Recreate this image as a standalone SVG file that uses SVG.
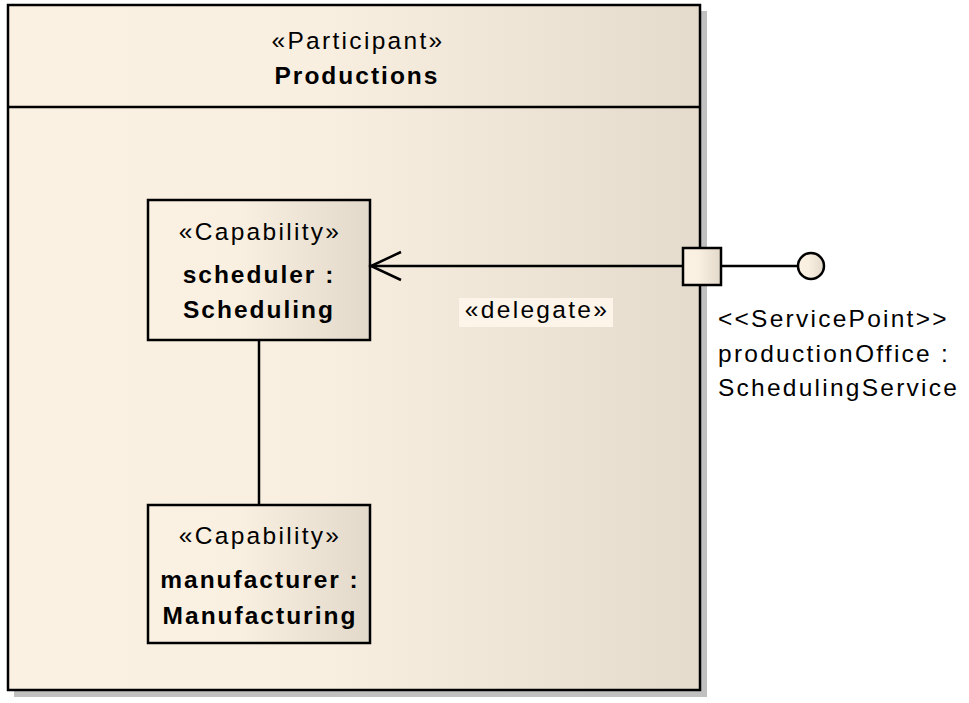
<svg xmlns="http://www.w3.org/2000/svg" width="969" height="703" viewBox="0 0 969 703">
<defs>
<linearGradient id="g" x1="0" y1="0" x2="1" y2="0">
<stop offset="0" stop-color="#fbf1e3"/>
<stop offset="0.45" stop-color="#f9efe1"/>
<stop offset="1" stop-color="#e4dbcd"/>
</linearGradient>
<linearGradient id="gs" x1="0" y1="0" x2="1" y2="0">
<stop offset="0" stop-color="#fbf1e3"/>
<stop offset="0.4" stop-color="#faf0e2"/>
<stop offset="1" stop-color="#e2d9cb"/>
</linearGradient>
</defs>
<style>
.box{stroke:#000;stroke-width:2.5}
.shadow{fill:#c0c0c0}
.t{font-family:"Liberation Sans",Arial,sans-serif;font-size:24.5px;fill:#000;text-anchor:middle;letter-spacing:2.3px}
.b{font-weight:bold;letter-spacing:2px}
.l{font-family:"Liberation Sans",Arial,sans-serif;font-size:24.5px;fill:#000;letter-spacing:2.25px}
.line{stroke:#000;stroke-width:2.5;fill:none}
</style>
<rect width="969" height="703" fill="#fff"/>
<g id="productions">
<rect class="shadow" x="14" y="11" width="693" height="686"/>
<rect class="box" x="8" y="5" width="692" height="685" fill="url(#g)"/>
<line class="line" x1="8" y1="107" x2="700" y2="107"/>
<text class="t" x="358" y="49">«Participant»</text>
<text class="t b" x="357" y="84">Productions</text>
</g>
<g id="scheduler">
<rect class="box" x="148" y="200" width="222" height="140" fill="url(#gs)"/>
<text class="t" x="260" y="240">«Capability»</text>
<text class="t b" x="259" y="283">scheduler :</text>
<text class="t b" x="259" y="318">Scheduling</text>
</g>
<g id="manufacturer">
<rect class="box" x="148" y="505" width="222" height="138" fill="url(#gs)"/>
<text class="t" x="260" y="544">«Capability»</text>
<text class="t b" x="260" y="588">manufacturer :</text>
<text class="t b" x="260" y="624">Manufacturing</text>
</g>
<g id="connectors">
<line class="line" x1="259" y1="340" x2="259" y2="505"/>
<line class="line" x1="683" y1="266" x2="371" y2="266"/>
<polyline class="line" points="401,252 371,266 401,280"/>
<line class="line" x1="721" y1="266" x2="798" y2="266"/>
<rect x="459" y="298" width="154" height="29" fill="#fdf5ea"/>
<text class="t" x="537" y="318">«delegate»</text>
</g>
<g id="port">
<rect class="box" x="683" y="248" width="38" height="37" fill="url(#gs)"/>
</g>
<g id="servicepoint">
<circle class="box" cx="811" cy="266" r="13" fill="url(#gs)"/>
<text class="l" x="718" y="327">&lt;&lt;ServicePoint&gt;&gt;</text>
<text class="l" x="718" y="362">productionOffice :</text>
<text class="l" x="718" y="396">SchedulingService</text>
</g>
</svg>
